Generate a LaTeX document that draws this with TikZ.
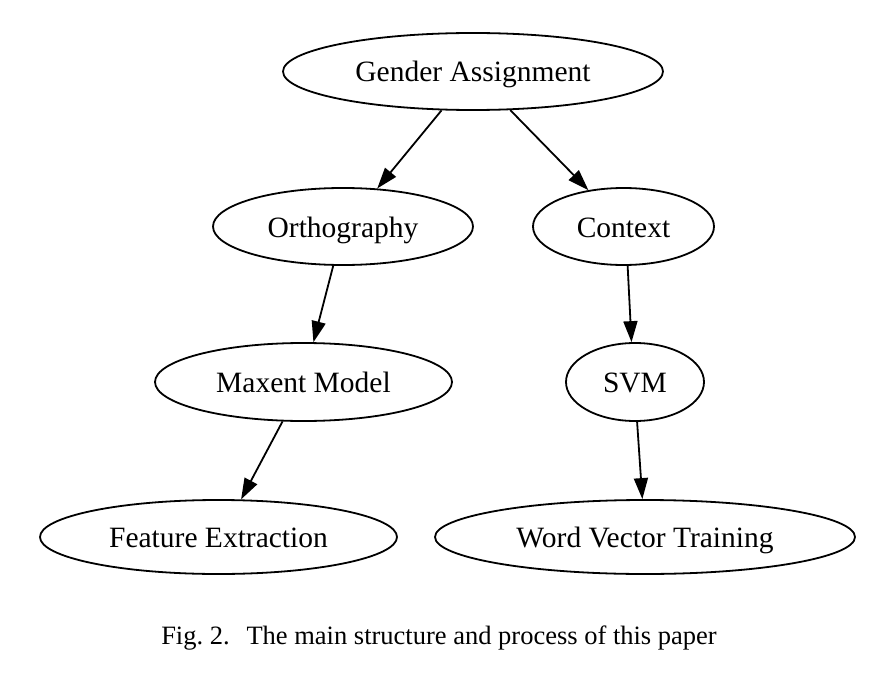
\documentclass[tikz,border=0pt]{standalone}
\usepackage{fontspec}
\setmainfont{Liberation Serif}
\usetikzlibrary{shapes.geometric,arrows.meta}

\begin{document}
\begin{tikzpicture}[x=1pt,y=-1pt]

        \tikzset{
            stage/.style={ellipse, draw, line width=1.8pt, inner sep=0pt,
                text height=21pt, text depth=0pt,
                font=\fontsize{29.5}{34}\selectfont},
            flow/.style={-{Triangle[length=21pt,width=14pt]}, line width=1.8pt},
            caption/.style={font=\fontsize{26.5}{32}\selectfont}
        }

        \useasboundingbox (0,0) rectangle (894,690);

        % top level
        \node[stage, minimum width=380pt, minimum height=77pt] (gender) at (473,71.5) {Gender Assignment};

        % second level
        \node[stage, minimum width=260pt, minimum height=77pt] (ortho) at (343,226.5) {Orthography};
        \node[stage, minimum width=181pt, minimum height=77pt] (context) at (623.5,226.5) {Context};

        % third level
        \node[stage, minimum width=297pt, minimum height=78pt] (maxent) at (303.5,382) {Maxent Model};
        \node[stage, minimum width=138pt, minimum height=78pt] (svm) at (635,382) {SVM};

        % bottom level
        \node[stage, minimum width=357pt, minimum height=74pt] (feature) at (218.5,537) {Feature Extraction};
        \node[stage, minimum width=420pt, minimum height=74pt] (wordvec) at (645,537) {Word Vector Training};

        \draw[flow] (gender.-129) -- (ortho.48.8);
        \draw[flow] (gender.-46.9) -- (context.134.2);
        \draw[flow] (ortho.-104.6) -- (maxent.76.3);
        \draw[flow] (context.-84.8) -- (svm.95.9);
        \draw[flow] (maxent.-118.9) -- (feature.59.8);
        \draw[flow] (svm.-87) -- (wordvec.94.6);

        \node[caption] (cap) at (439,638) {Fig.~2.\hspace{0.3em} The main structure and process of this paper};

    \end{tikzpicture}
\end{document}
